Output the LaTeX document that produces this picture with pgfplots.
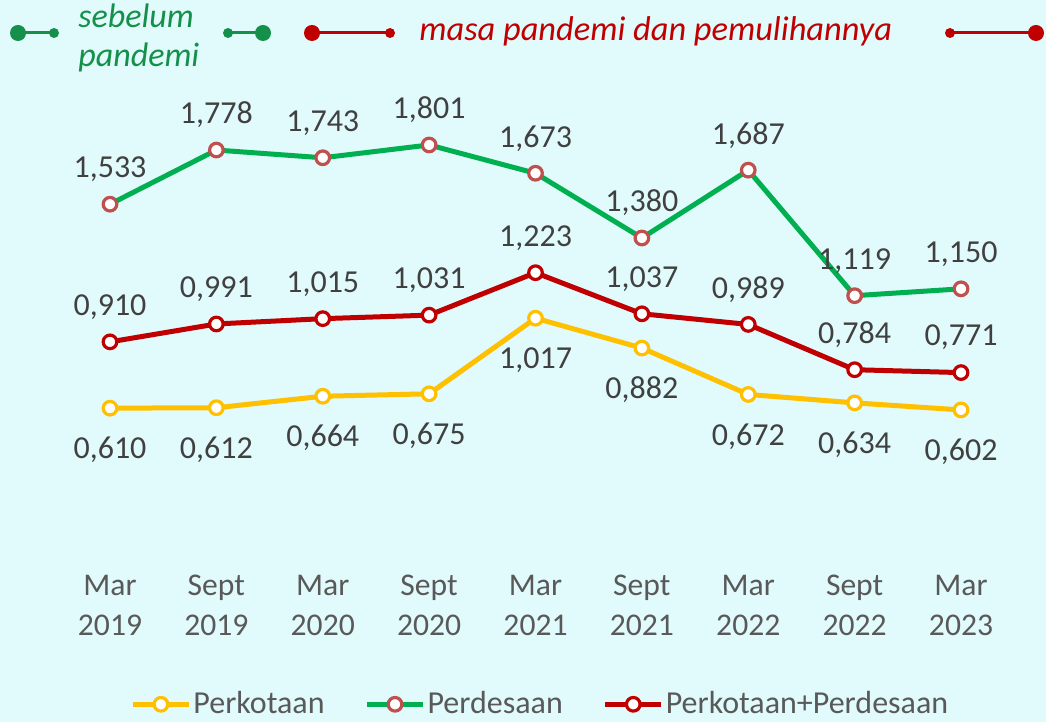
\documentclass[border=0pt]{standalone}
\usepackage{fontspec}
\setmainfont{Carlito}
\usepackage{pgfplots}
\pgfplotsset{compat=1.18}
\definecolor{bgc}{HTML}{E1FAFC}
\definecolor{cgreen}{HTML}{00B050}
\definecolor{cyellow}{HTML}{FFC000}
\definecolor{cred}{HTML}{C00000}
\definecolor{cmark}{HTML}{C0504D}
\definecolor{cdark}{HTML}{14904A}
\definecolor{labgray}{HTML}{404040}
\definecolor{tickgray}{HTML}{595959}

\pgfplotstableread{
i perkotaan perdesaan total
0 0.610 1.533 0.910
1 0.612 1.778 0.991
2 0.664 1.743 1.015
3 0.675 1.801 1.031
4 1.017 1.673 1.223
5 0.882 1.380 1.037
6 0.672 1.687 0.989
7 0.634 1.119 0.784
8 0.602 1.150 0.771
}\datatable

\begin{document}
\begin{tikzpicture}
\begin{axis}[
  scale only axis, width=523pt, height=361pt,
  xmin=-1.034, xmax=8.799, ymin=-0.810, ymax=2.457,
  axis line style={draw=none}, major tick length=0pt,
  axis background/.style={fill=bgc},
  ytick=\empty,
  xtick={0,...,8},
  xticklabels={Mar\\2019, Sept\\2019, Mar\\2020, Sept\\2020, Mar\\2021, Sept\\2021, Mar\\2022, Sept\\2022, Mar\\2023},
  xticklabel style={align=center, anchor=center, yshift=58.5pt, font=\fontsize{15.8}{20}\selectfont, text=tickgray},
  clip=false,
  /pgf/number format/assume math mode=true,
  nodes near coords={\pgfmathprintnumber[fixed,fixed zerofill,precision=3,use comma]{\pgfplotspointmeta}},
  every node near coord/.append style={anchor=center, font=\fontsize{16}{18}\selectfont, text=labgray},
  legend style={at={(0.5165,0.0245)}, anchor=center, draw=none, fill=none, legend columns=3,
    font=\fontsize{16}{18}\selectfont, text=tickgray, nodes={inner xsep=1pt, inner ysep=1pt},
    /tikz/every even column/.append style={column sep=19pt}},
  legend image code/.code={\draw[mark repeat=2,mark phase=2] plot coordinates {(0pt,0pt) (14pt,0pt) (28pt,0pt)};},
]
\addplot[cyellow, line width=2.5pt, mark=*, mark size=3.4pt,
  mark options={fill=white, draw=cyellow, line width=1.6pt},
  every node near coord/.append style={yshift=-21pt}]
  table[x=i, y=perkotaan] {\datatable};
\addlegendentry{Perkotaan}
\addplot[cgreen, line width=2.5pt, mark=*, mark size=3.4pt,
  mark options={fill=white, draw=cmark, line width=1.6pt},
  every node near coord/.append style={yshift=17.5pt}]
  table[x=i, y=perdesaan] {\datatable};
\addlegendentry{Perdesaan}
\addplot[cred, line width=2.5pt, mark=*, mark size=3.4pt,
  mark options={fill=white, draw=cred, line width=1.6pt},
  every node near coord/.append style={yshift=17.5pt}]
  table[x=i, y=total] {\datatable};
\addlegendentry{Perkotaan+Perdesaan}
\end{axis}
% period markers at the top, coordinates in pixels of the reference
\begin{scope}[shift={(0pt,361pt)}, x=0.5pt, y=-0.5pt]
  \draw[cdark, line width=1.5pt] (18,33) -- (54,33);
  \fill[cdark] (18,33) circle[radius=4pt];
  \fill[cdark] (54,33) circle[radius=2.5pt];
  \draw[cdark, line width=1.5pt] (228,33) -- (263,33);
  \fill[cdark] (228,33) circle[radius=2.5pt];
  \fill[cdark] (263,33) circle[radius=4pt];
  \node[anchor=base west, inner sep=0pt, text=cdark, font=\itshape\fontsize{17}{20}\selectfont] at (78,28) {sebelum};
  \node[anchor=base west, inner sep=0pt, text=cdark, font=\itshape\fontsize{17}{20}\selectfont] at (78,67) {pandemi};
  \draw[cred, line width=1.5pt] (312,33) -- (390,33);
  \fill[cred] (312,33) circle[radius=4pt];
  \fill[cred] (390,33) circle[radius=2.5pt];
  \draw[cred, line width=1.5pt] (950,33) -- (1036,33);
  \fill[cred] (950,33) circle[radius=2.5pt];
  \fill[cred] (1036,33) circle[radius=4pt];
  \node[anchor=base west, inner sep=0pt, text=cred, font=\itshape\fontsize{17.2}{20}\selectfont] at (419,41) {masa pandemi dan pemulihannya};
\end{scope}
\pgfresetboundingbox
\path[use as bounding box] (0,0) rectangle (523pt,361pt);
\end{tikzpicture}
\end{document}
